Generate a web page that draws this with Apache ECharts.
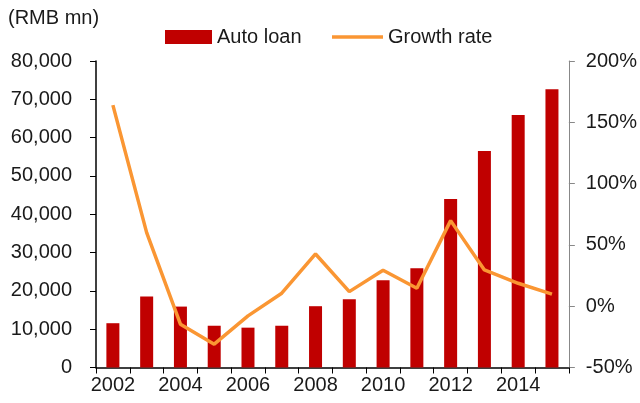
<!DOCTYPE html>
<html>
<head>
<meta charset="utf-8">
<script src="https://cdn.jsdelivr.net/npm/echarts@6/dist/echarts.min.js"></script>
<style>
  html, body { margin: 0; padding: 0; background: #fff; }
  #chart { width: 640px; height: 403px; }
</style>
</head>
<body>
<div id="chart"></div>
<script>
// Years on the category axis
const years = ['2002', '2003', '2004', '2005', '2006', '2007', '2008',
               '2009', '2010', '2011', '2012', '2013', '2014', '2015'];
// Outstanding auto loans, RMB mn
const autoLoan = [11560, 18500, 15900, 10900, 10400, 10900, 16000,
                  17800, 22800, 25900, 44000, 56500, 65900, 72600];
// Year-on-year growth, %
const growthRate = [164, 60, -14.7, -31, -7.9, 10.6, 42.6,
                    11.9, 29.3, 14.7, 69.8, 29.6, 18.7, 9.8];

const FONT = '"Liberation Sans", Arial, sans-serif';
const TEXT = '#1a1a1a';
const ORANGE = '#FA9633';

const chart = echarts.init(document.getElementById('chart'), null, { renderer: 'canvas' });

chart.setOption({
  animation: false,
  backgroundColor: '#ffffff',
  textStyle: { fontFamily: FONT, color: TEXT },
  title: {
    text: '(RMB mn)',
    left: 8, top: 8, padding: 0,
    textStyle: { fontFamily: FONT, fontSize: 20, fontWeight: 'normal', color: TEXT }
  },
  legend: [
    {
      data: ['Auto loan'],
      left: 165, top: 27, padding: 0,
      itemWidth: 47, itemHeight: 14,
      icon: 'rect',
      textStyle: { fontFamily: FONT, fontSize: 20, color: TEXT }
    },
    {
      // thin stroke for the line series, no marker
      data: ['Growth rate'],
      left: 332, top: 27, padding: 0,
      itemWidth: 51, itemHeight: 14,
      icon: 'path://M0,0H51V3.5H0Z',
      symbolKeepAspect: true,
      itemStyle: { color: ORANGE, borderWidth: 0 },
      textStyle: { fontFamily: FONT, fontSize: 20, color: TEXT }
    }
  ],
  grid: { left: 96, right: 68, top: 61, bottom: 35.5 },
  xAxis: {
    type: 'category',
    data: years,
    boundaryGap: true,
    axisLine: { lineStyle: { color: '#000', width: 1.5 } },
    axisTick: { show: true, length: 6, interval: 0, lineStyle: { color: '#000' } },
    axisLabel: {
      interval: 1, margin: 8,
      fontFamily: FONT, fontSize: 20, color: TEXT
    },
    splitLine: { show: false }
  },
  yAxis: [
    {
      type: 'value',
      min: 0, max: 80000, interval: 10000,
      axisLine: { show: true, lineStyle: { color: '#000', width: 1.5 } },
      axisTick: { show: true, length: 6, lineStyle: { color: '#000' } },
      axisLabel: {
        margin: 24, fontFamily: FONT, fontSize: 20, color: TEXT,
        formatter: v => v.toLocaleString('en-US')
      },
      splitLine: { show: false }
    },
    {
      type: 'value',
      min: -50, max: 200, interval: 50,
      position: 'right',
      axisLine: { show: true, lineStyle: { color: '#888', width: 1 } },
      axisTick: { show: true, length: 6, lineStyle: { color: '#888' } },
      axisLabel: {
        margin: 17, fontFamily: FONT, fontSize: 20, color: TEXT,
        formatter: '{value}%'
      },
      splitLine: { show: false }
    }
  ],
  series: [
    {
      name: 'Auto loan',
      type: 'bar',
      data: autoLoan,
      yAxisIndex: 0,
      barWidth: 13,
      itemStyle: { color: '#C00000' }
    },
    {
      name: 'Growth rate',
      type: 'line',
      data: growthRate,
      yAxisIndex: 1,
      symbol: 'none',
      showSymbol: false,
      smooth: false,
      lineStyle: { color: ORANGE, width: 3.5 },
      itemStyle: { color: ORANGE }
    }
  ]
});
</script>
</body>
</html>
